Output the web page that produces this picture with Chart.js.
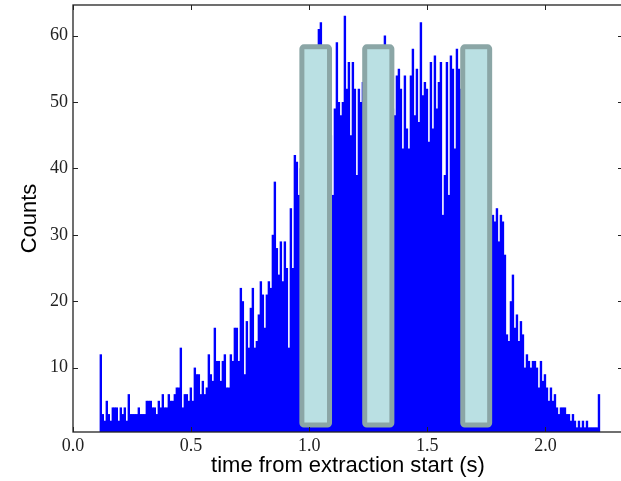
<!DOCTYPE html>
<html>
<head>
<meta charset="utf-8">
<script src="https://cdn.jsdelivr.net/npm/chart.js@4.4.0/dist/chart.umd.min.js"></script>
<style>
    html, body { margin: 0; padding: 0; background: #fff; overflow: hidden; }
    #wrap { width: 626px; height: 481px; }
</style>
</head>
<body>
<div id="wrap"><canvas id="histChart"></canvas></div>
<script>
// histogram bins (s)
const binStart = 0.1135;
const binWidth = 0.00847;

// counts per bin, read left to right
const counts = [
    12, 3, 2, 5, 3, 2, 4, 4, 4, 2, 4, 3, 4, 2, 6, 3, 3, 3, 3, 4, 3, 3, 3, 5, 5,
    5, 4, 4, 3, 5, 4, 6, 4, 4, 6, 5, 5, 6, 7, 7, 13, 4, 6, 6, 5,
    7, 5, 10, 9, 9, 6, 8, 6, 7, 12, 9, 8, 16, 11, 11, 8, 11, 12, 7, 7,
    12, 11, 16, 16, 11, 22, 20, 9, 17, 13, 19, 22, 13, 14, 18, 23, 21, 16, 21, 23,
    22, 30, 38, 28, 24, 29, 23, 29, 25, 13, 34, 25, 42, 41,
    36, 40, 44, 47, 46, 50, 52, 55, 54, 57, 61, 62, 56, 52, 50, 47,
    45, 36, 49, 59, 50, 48, 50, 63, 52, 56, 45, 56, 52, 39, 52,
    50, 53, 48, 55, 52, 56, 50, 54, 57, 53, 51, 55, 60, 54, 52, 50, 49,
    48, 54, 55, 52, 43, 54, 46, 43, 54, 58, 48, 55, 47, 62, 51, 53, 52, 44, 56, 46,
    57, 49, 53, 56, 33, 39, 56, 36, 57, 55, 43, 58,
    55, 52, 54, 50, 48, 51, 46, 44, 47, 42, 40, 43, 38, 36, 40, 48,
    26, 33, 32, 34, 29, 33, 32, 27, 15, 14, 20, 24, 16, 18, 14, 17, 15, 10, 12, 11,
    10, 11, 11, 10, 7, 11, 8, 9, 7, 5, 7, 5, 6, 4, 3, 4, 4, 4, 3, 3,
    2, 3, 2, 1, 2, 1, 2, 1, 2, 1, 1, 1, 1, 1, 6
];

// highlighted windows
const boxStarts = [0.969, 1.235, 1.650];
const boxEnds = [1.086, 1.350, 1.764];
const boxTop = 58.3;
const boxBottom = 1.34;

const xTicks = [0.0, 0.5, 1.0, 1.5, 2.0];
const yTicks = [10, 20, 30, 40, 50, 60];

const binCenters = counts.map((c, i) => binStart + (i + 0.5) * binWidth);
const points = counts.map((c, i) => ({ x: binCenters[i], y: c }));

const overlayPlugin = {
    id: 'overlay',
    afterDatasetsDraw(chart) {
        const { ctx, chartArea: a, scales: { x, y } } = chart;
        ctx.save();

        boxStarts.forEach((s, i) => {
            const x0 = x.getPixelForValue(s);
            const x1 = x.getPixelForValue(boxEnds[i]);
            const y0 = y.getPixelForValue(boxTop);
            const y1 = y.getPixelForValue(boxBottom);
            ctx.beginPath();
            ctx.roundRect(x0, y0, x1 - x0, y1 - y0, 2);
            ctx.fillStyle = '#bae0e3';
            ctx.fill();
            ctx.lineWidth = 5;
            ctx.strokeStyle = '#8ba6a6';
            ctx.stroke();
        });

        // frame and inward ticks
        ctx.strokeStyle = '#222';
        ctx.lineWidth = 1.3;
        ctx.strokeRect(a.left, a.top, a.right - a.left, a.bottom - a.top);
        ctx.lineWidth = 1;
        ctx.beginPath();
        xTicks.forEach(v => {
            const px = Math.round(x.getPixelForValue(v)) + 0.5;
            ctx.moveTo(px, a.bottom); ctx.lineTo(px, a.bottom - 5);
            ctx.moveTo(px, a.top); ctx.lineTo(px, a.top + 5);
        });
        yTicks.forEach(v => {
            const py = Math.round(y.getPixelForValue(v)) + 0.5;
            ctx.moveTo(a.left, py); ctx.lineTo(a.left + 5, py);
            ctx.moveTo(a.right, py); ctx.lineTo(a.right - 5, py);
        });
        ctx.stroke();
        ctx.restore();
    }
};

const tickFont = { family: 'Liberation Serif', size: 18 };
const titleFont = { family: 'Liberation Sans', size: 22 };

new Chart(document.getElementById('histChart'), {
    type: 'bar',
    data: {
        datasets: [{
            data: points,
            backgroundColor: '#0000ff',
            borderWidth: 0,
            barPercentage: 1.2,
            categoryPercentage: 1
        }]
    },
    options: {
        responsive: true,
        maintainAspectRatio: false,
        animation: false,
        devicePixelRatio: 1,
        layout: { padding: { top: 5, right: 3, bottom: 0, left: 0 } },
        plugins: {
            legend: { display: false },
            tooltip: { enabled: false }
        },
        scales: {
            x: {
                type: 'linear',
                offset: false,
                min: 0,
                max: 2.3285,
                grid: { display: false, drawTicks: false, offset: false },
                border: { display: false },
                afterBuildTicks: (scale) => { scale.ticks = xTicks.map(v => ({ value: v })); },
                afterFit: (scale) => {
                    scale.height = 49;
                    scale.paddingLeft = 0;
                    scale.paddingRight = 0;
                },
                ticks: {
                    autoSkip: false,
                    maxRotation: 0,
                    padding: 3,
                    color: '#222',
                    font: tickFont,
                    callback: (v) => Number(v).toFixed(1)
                },
                title: {
                    display: true,
                    text: 'time from extraction start (s)',
                    color: '#000',
                    font: titleFont,
                    padding: { top: 0, bottom: 2 }
                }
            },
            y: {
                min: 0.3,
                max: 64.6,
                grid: { display: false, drawTicks: false },
                border: { display: false },
                afterBuildTicks: (scale) => { scale.ticks = yTicks.map(v => ({ value: v })); },
                afterFit: (scale) => {
                    scale.width = 73;
                    scale.paddingTop = 0;
                    scale.paddingBottom = 0;
                },
                ticks: {
                    autoSkip: false,
                    padding: 5,
                    color: '#222',
                    font: tickFont,
                    callback: (v) => String(v)
                },
                title: {
                    display: true,
                    text: 'Counts',
                    color: '#000',
                    font: titleFont,
                    padding: { top: 17, bottom: 0 }
                }
            }
        }
    },
    plugins: [overlayPlugin]
});
</script>
</body>
</html>
